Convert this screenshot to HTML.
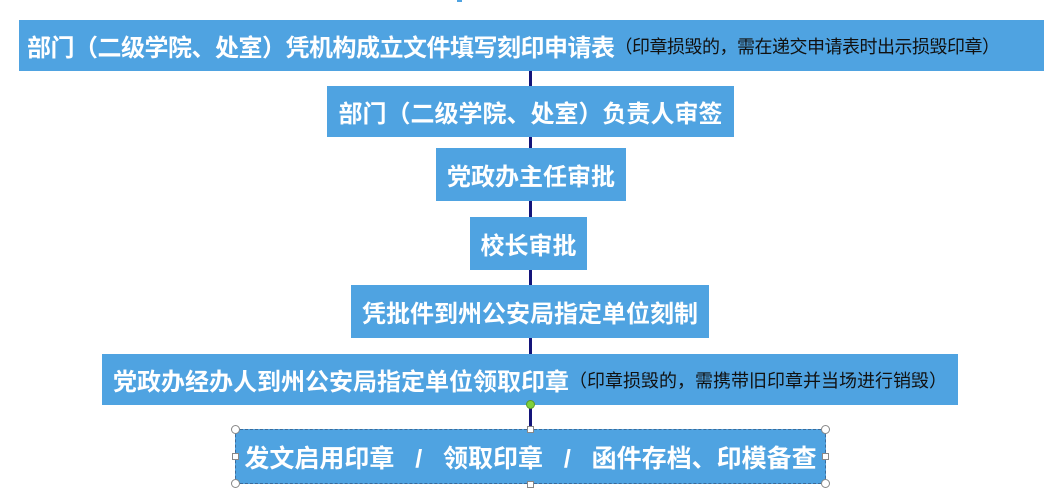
<!DOCTYPE html>
<html><head><meta charset="utf-8"><style>
body{margin:0;width:1058px;height:498px;background:#fff;position:relative;overflow:hidden;font-family:"Liberation Sans","Noto Sans CJK SC",sans-serif}
.b{position:absolute;background:#4fa3e1;color:#fff;font-weight:bold;font-size:24px;display:flex;align-items:center;justify-content:center;white-space:nowrap}
.s{font-weight:normal;color:#111;font-size:18px;margin-left:0}
.line{position:absolute;left:529px;width:3px;background:#14147a;top:71px;height:358px}
.h{position:absolute;width:7px;height:7px;border:1px solid #888;background:#fff;box-sizing:border-box}
.c{border-radius:50%;width:9px;height:9px}
</style></head><body>
<div style="position:absolute;left:457px;top:0;width:5px;height:2px;background:#4fa3e1"></div>
<div class="line"></div>
<div class="b" style="left:19px;top:20px;width:1025px;height:51px;justify-content:flex-start;padding-left:8px;box-sizing:border-box;letter-spacing:-0.5px">部门（二级学院、处室）凭机构成立文件填写刻印申请表<span class="s">（印章损毁的，需在递交申请表时出示损毁印章）</span></div>
<div class="b" style="left:327px;top:86px;width:407px;height:51px">部门（二级学院、处室）负责人审签</div>
<div class="b" style="left:436px;top:148px;width:190px;height:53px">党政办主任审批</div>
<div class="b" style="left:470px;top:217px;width:117px;height:53px">校长审批</div>
<div class="b" style="left:351px;top:285px;width:358px;height:53px">凭批件到州公安局指定单位刻制</div>
<div class="b" style="left:102px;top:354px;width:856px;height:51px">党政办经办人到州公安局指定单位领取印章<span class="s">（印章损毁的，需携带旧印章并当场进行销毁）</span></div>
<div class="b" style="left:235px;top:429px;width:591px;height:55px;border:1px dashed #3b6b9a;box-sizing:border-box;font-size:25px">发文启用印章&nbsp;&nbsp;&nbsp;/&nbsp;&nbsp;&nbsp;领取印章&nbsp;&nbsp;&nbsp;/&nbsp;&nbsp;&nbsp;函件存档、印模备查</div>
<div class="h c" style="left:526px;top:400px;background:#7fd13b;border-color:#5a9a2a"></div>
<div class="h c" style="left:231px;top:425px"></div>
<div class="h c" style="left:821px;top:425px"></div>
<div class="h c" style="left:231px;top:479px"></div>
<div class="h c" style="left:821px;top:479px"></div>
<div class="h" style="left:527px;top:426px"></div>
<div class="h" style="left:527px;top:481px"></div>
<div class="h" style="left:232px;top:453px"></div>
<div class="h" style="left:822px;top:453px"></div>
</body></html>
